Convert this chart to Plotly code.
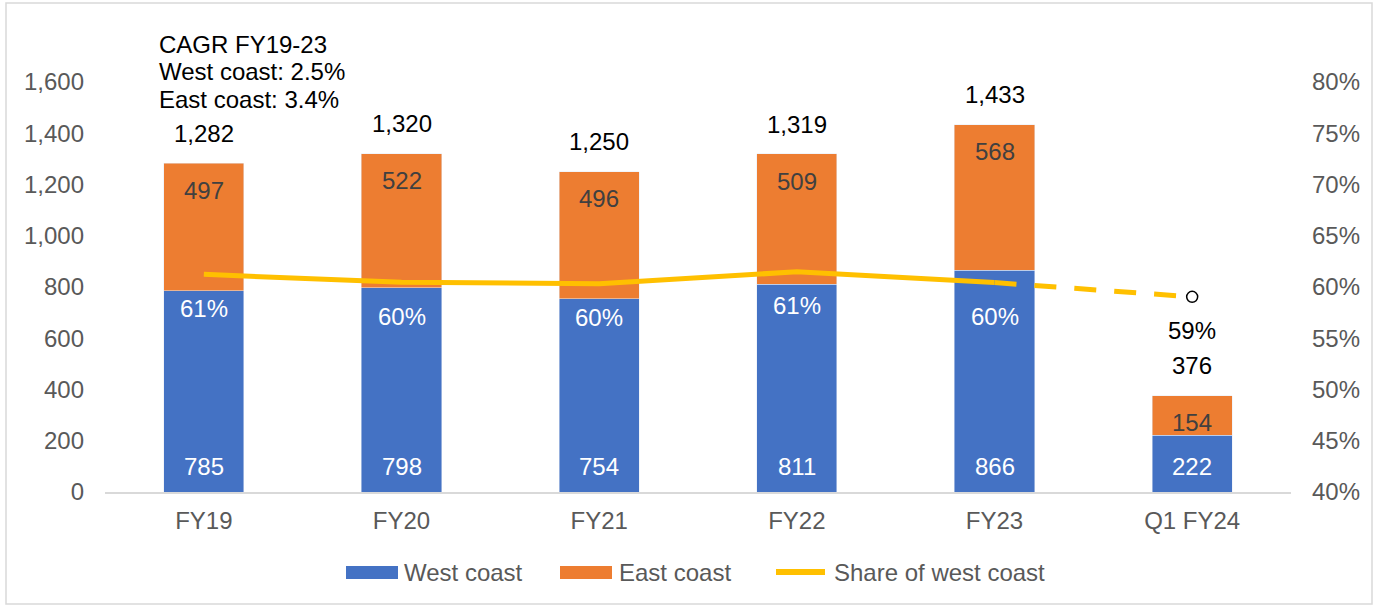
import plotly.graph_objects as go

categories = ["FY19", "FY20", "FY21", "FY22", "FY23", "Q1 FY24"]
west = [785, 798, 754, 811, 866, 222]
east = [497, 522, 496, 509, 568, 154]
totals = [1282, 1320, 1250, 1319, 1433, 376]
share_labels = ["61%", "60%", "60%", "61%", "60%", "59%"]
share = [w / t for w, t in zip(west, totals)]
cagr_lines = ["CAGR FY19-23", "West coast: 2.5%", "East coast: 3.4%"]
legend_names = ["West coast", "East coast", "Share of west coast"]

FONT = "Liberation Sans, Arial, sans-serif"
BLUE = "#4472C4"
ORANGE = "#ED7D31"
YELLOW = "#FFC000"
GRAY = "#595959"

# plot area geometry (pixels)
L, R, T, B = 105, 90, 82, 115
W, H = 1381, 607
PW, PH = W - L - R, H - T - B


def px(x):
    return (x - L) / PW


def py(y):
    return (H - B - y) / PH


fig = go.Figure()
fig.add_trace(go.Bar(x=categories, y=west, name=legend_names[0], marker_color=BLUE,
                     width=0.405, showlegend=False))
fig.add_trace(go.Bar(x=categories, y=east, name=legend_names[1], marker_color=ORANGE,
                     width=0.405, showlegend=False))
fig.add_trace(go.Scatter(x=categories[:5], y=share[:5], name=legend_names[2],
                         mode="lines", line=dict(color=YELLOW, width=5),
                         yaxis="y2", showlegend=False))
fig.add_trace(go.Scatter(x=categories[4:], y=share[4:], mode="lines",
                         line=dict(color=YELLOW, width=5, dash="22px,18px"),
                         yaxis="y2", showlegend=False))
fig.add_trace(go.Scatter(x=categories[5:], y=share[5:], mode="markers",
                         marker=dict(symbol="circle-open", size=11, color="#000000",
                                     line=dict(color="#000000", width=1.5)),
                         yaxis="y2", showlegend=False))

ann = []
for i, c in enumerate(categories):
    ann.append(dict(x=c, y=0, yref="y", text=str(west[i]), showarrow=False,
                    yshift=26, font=dict(color="white", size=24, family=FONT)))
    ann.append(dict(x=c, y=totals[i], yref="y", text=str(east[i]),
                    showarrow=False, yshift=-27,
                    font=dict(color="#404040", size=24, family=FONT)))
    ann.append(dict(x=c, y=totals[i], yref="y", text=f"{totals[i]:,}", showarrow=False,
                    yshift=30, font=dict(color="#000000", size=24, family=FONT)))
    last = i == len(categories) - 1
    ann.append(dict(x=c, y=share[i], yref="y2", text=share_labels[i], showarrow=False,
                    yshift=-34, font=dict(color="#000000" if last else "white",
                                          size=24, family=FONT)))

for j, line in enumerate(cagr_lines):
    ann.append(dict(xref="paper", yref="paper", x=px(157), y=py(45 + 27 * j),
                    xanchor="left", yanchor="middle", showarrow=False, text=line,
                    font=dict(color="#000000", size=24, family=FONT)))

# custom legend
shapes = [
    dict(type="rect", xref="paper", yref="paper", x0=px(346), x1=px(398),
         y0=py(579), y1=py(566), fillcolor=BLUE, line=dict(width=0)),
    dict(type="rect", xref="paper", yref="paper", x0=px(560), x1=px(612),
         y0=py(579), y1=py(566), fillcolor=ORANGE, line=dict(width=0)),
    dict(type="line", xref="paper", yref="paper", x0=px(776), x1=px(825),
         y0=py(572), y1=py(572), line=dict(color=YELLOW, width=6)),
    dict(type="rect", xref="paper", yref="paper",
         x0=px(6), x1=px(1372), y0=py(604), y1=py(3),
         line=dict(color="#D9D9D9", width=1.5), fillcolor="rgba(0,0,0,0)"),
]
for name, x0 in zip(legend_names, [402, 617, 832]):
    ann.append(dict(xref="paper", yref="paper", x=px(x0), y=py(572),
                    xanchor="left", yanchor="middle", showarrow=False, text=name,
                    font=dict(color=GRAY, size=24, family=FONT)))

fig.update_layout(
    width=W, height=H,
    barmode="stack",
    plot_bgcolor="white", paper_bgcolor="white",
    margin=dict(l=L, r=R, t=T, b=B),
    font=dict(family=FONT, size=24, color=GRAY),
    annotations=ann,
    shapes=shapes,
    showlegend=False,
    xaxis=dict(showline=True, linecolor="#D9D9D9", linewidth=1.5, ticks="",
               tickfont=dict(size=24, color=GRAY), showgrid=False,
               ticklabelstandoff=6),
    yaxis=dict(range=[0, 1600], dtick=200, tickformat=",", showgrid=False,
               zeroline=False, showline=False, tickfont=dict(size=24, color=GRAY),
               ticklabelstandoff=20),
    yaxis2=dict(range=[0.40, 0.80], dtick=0.05, tickformat=".0%", overlaying="y",
                side="right", showgrid=False, zeroline=False, showline=False,
                tickfont=dict(size=24, color=GRAY), ticklabelstandoff=20),
    hovermode=False,
)

fig.write_html("out.html", config={"displayModeBar": False},
               post_script="document.body.style.margin='0';document.body.style.padding='0';")
